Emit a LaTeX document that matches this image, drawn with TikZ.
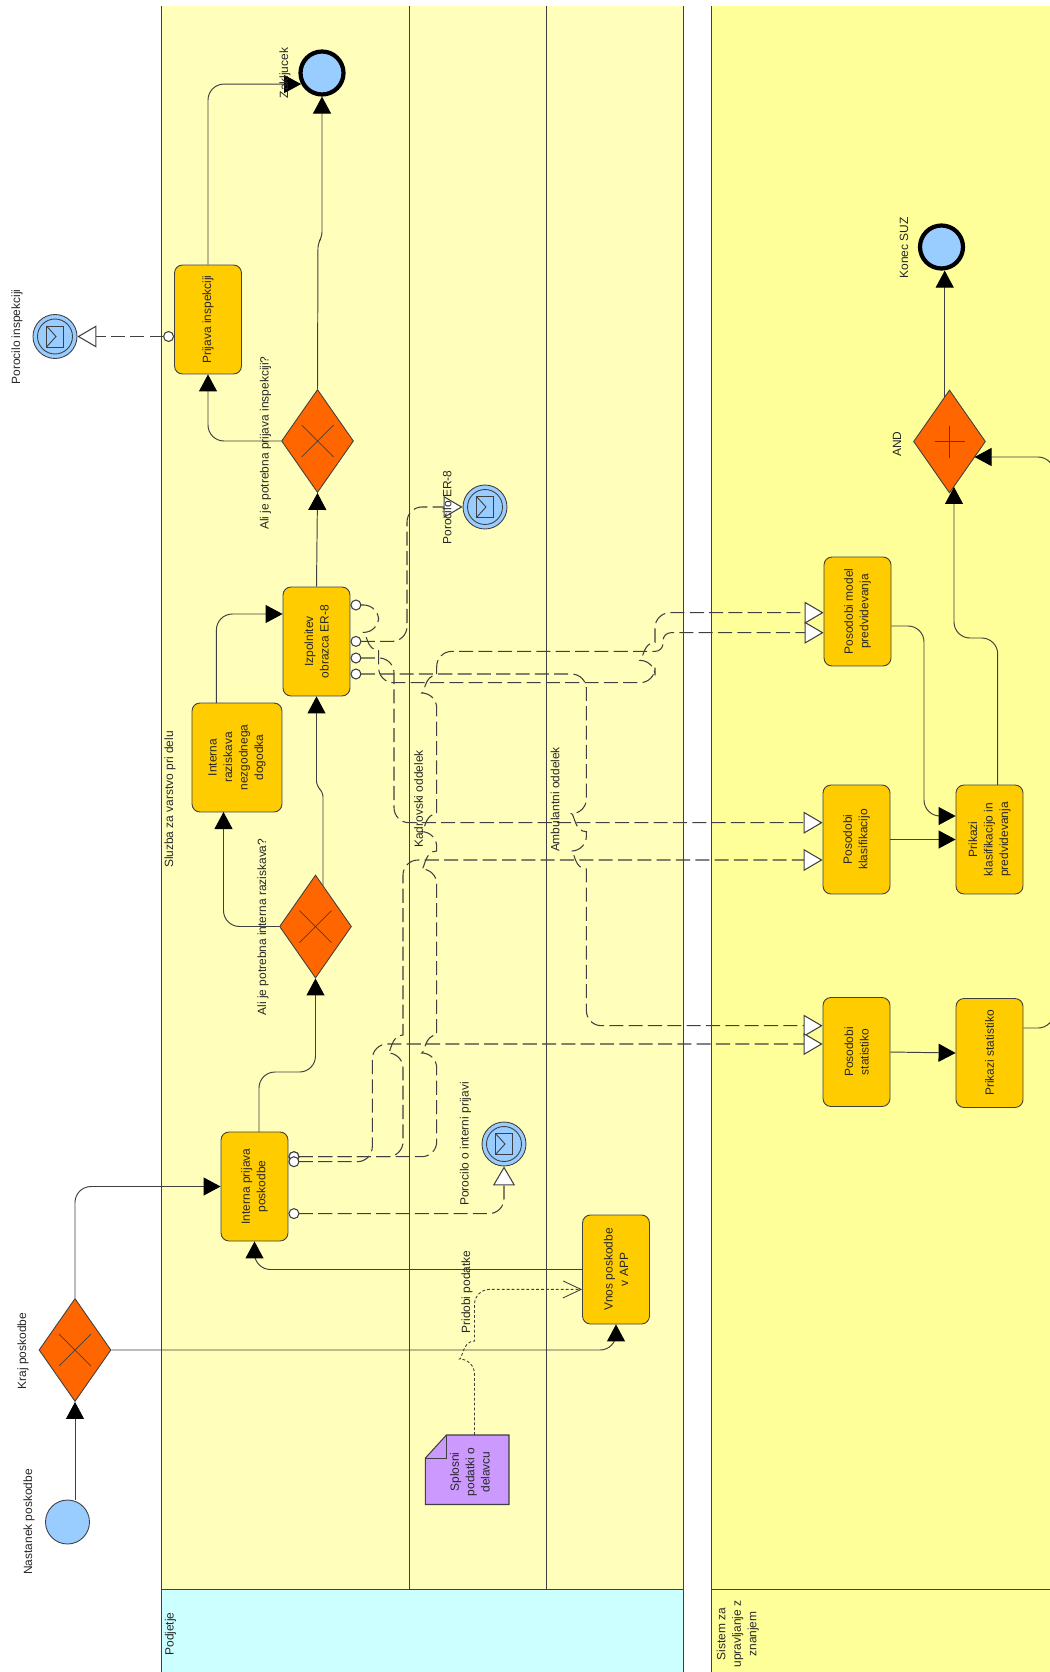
\documentclass[tikz,border=0pt]{standalone}
\usepackage{fontspec}
\usepackage{tikz}
\usetikzlibrary{arrows.meta,shapes.geometric}
\setmainfont{Liberation Sans}
\definecolor{lanecol}{HTML}{FFFFBB}
\definecolor{poolcol}{HTML}{FFFF99}
\definecolor{headcol}{HTML}{CCFFFF}
\definecolor{taskcol}{HTML}{FFCC00}
\definecolor{gatecol}{HTML}{FF6600}
\definecolor{evtcol}{HTML}{99CCFF}
\definecolor{notecol}{HTML}{CC99FF}
\definecolor{linecol}{HTML}{404040}
\tikzset{
lbl/.style={rotate=90,inner sep=0pt,align=center,text=black!85,font=\fontsize{6.8}{8.8}\selectfont},
task/.style={lbl,draw=linecol,line width=0.5pt,fill=taskcol,rounded corners=0.16cm,minimum width=2.18cm,minimum height=1.34cm},
gate/.style={diamond,draw=linecol,line width=0.5pt,fill=gatecol,inner sep=0pt,minimum width=1.44cm,minimum height=2.06cm},
evt/.style={circle,draw=linecol,line width=0.5pt,fill=evtcol,inner sep=0pt,minimum size=0.88cm},
endevt/.style={evt,draw=black,line width=2.4pt,minimum size=0.86cm},
lane/.style={draw=linecol,line width=0.55pt},
seq/.style={draw=linecol,line width=0.55pt,rounded corners=0.32cm,-{Triangle[length=0.34cm,width=0.36cm,color=black]}},
msg/.style={draw=linecol,line width=0.6pt,rounded corners=0.3cm,dash pattern=on 8pt off 3pt,{Circle[fill=white,length=0.22cm]}-{Triangle[fill=white,length=0.38cm,width=0.44cm]}},
assoc/.style={draw=linecol,line width=0.5pt,rounded corners=0.3cm,dash pattern=on 1.6pt off 1.2pt,-{Straight Barb[length=0.36cm,width=0.34cm,color=linecol]}}
}
% line jump on a vertical run
\newcommand{\bumpv}[3]{-- (#1,#2+#3) [sharp corners] .. controls (#1-12,#2+#3) and (#1-12,#2-#3) .. (#1,#2-#3) -- (#1,#2-1.3*#3) [rounded corners=0.3cm]}
\newcommand{\msgevent}[3]{
\node[evt] (#1) at (#2,#3) {};
\node[evt,minimum size=0.7cm] (#1Inner) at (#2,#3) {};
\draw[draw=linecol,line width=0.5pt] (#2-8.5,#3-10.5) rectangle (#2+8,#3+10.5);
\draw[draw=linecol,line width=0.5pt] (#2-8.5,#3-10.5) -- (#2+1,#3) -- (#2-8.5,#3+10.5);
}
\begin{document}
\begin{tikzpicture}[x=0.02cm,y=-0.02cm]
\useasboundingbox (0,0) rectangle (1050,1672);
\clip (0,0) rectangle (1050,1672);
% pools
\fill[lanecol] (161,6) rectangle (683,1589);
\fill[headcol] (161,1589) rectangle (683,1672);
\fill[poolcol] (711,6) rectangle (1050,1672);
\draw[lane] (161,6) -- (161,1672);
\draw[lane] (683,6) -- (683,1672);
\draw[lane] (711,6) -- (711,1672);
\draw[lane] (409,6) -- (409,1589);
\draw[lane] (546,6) -- (546,1589);
\draw[lane] (161,1589) -- (683,1589);
\draw[lane] (711,1589) -- (1050,1589);
% tasks
\node[task] (boxPrj) at (208,319.5) {Prijava inspekciji};
\node[task] (boxIzp) at (316.5,641.5) {Izpolnitev\\obrazca ER-8};
\node[task,minimum height=1.8cm] (boxRaz) at (237,757.5) {Interna\\raziskava\\nezgodnega\\dogodka};
\node[task] (boxPri) at (254.5,1186.5) {Interna prijava\\poskodbe};
\node[task] (boxVnos) at (616,1269.5) {Vnos poskodbe\\v APP};
\node[task] (boxMod) at (857.5,611.5) {Posodobi model\\predvidevanja};
\node[task] (boxKla) at (856.5,839.5) {Posodobi\\klasifikacijo};
\node[task] (boxSta) at (856.5,1052) {Posodobi\\statistiko};
\node[task] (boxPkl) at (989.5,839.5) {Prikazi\\klasifikacijo in\\predvidevanja};
\node[task] (boxPst) at (989.5,1053) {Prikazi statistiko};
% gateways
\node[gate] (gateKraj) at (75,1350) {};
\node[gate] (gateOne) at (315.5,926.5) {};
\node[gate] (gateTwo) at (317.5,441) {};
\node[gate] (gateAnd) at (949.5,441.5) {};
\foreach \g in {gateKraj,gateOne,gateTwo}{
\draw[draw=linecol,line width=0.4pt] (\g.center) +(-16,-16) -- +(16,16) +(-16,16) -- +(16,-16);
}
\draw[draw=linecol,line width=0.4pt] (gateAnd.center) +(-15,0) -- +(15,0) +(0,-16) -- +(0,16);
% events
\node[evt] (evStart) at (67.5,1522) {};
\node[endevt] (evEnd) at (322,73) {};
\node[endevt] (evKonec) at (941.5,247) {};
\msgevent{evInsp}{55}{336.5}
\msgevent{evEr}{485}{507}
\msgevent{evInt}{504}{1144}
% note
\filldraw[draw=linecol,line width=0.6pt,fill=notecol] (425.4,1458) -- (446.4,1435) -- (509,1435) -- (509,1504.5) -- (425.4,1504.5) -- cycle;
\draw[draw=linecol,line width=0.5pt] (446.4,1435) -- (446.4,1458) -- (425.4,1458);
\node[lbl] (noteData) at (470,1472) {Splosni\\podatki o\\delavcu};
% ports
\coordinate (prjPort) at (boxPrj.north |- 0,336.5);
\coordinate (izpA) at (boxIzp.south |- 0,605);
\coordinate (izpB) at (boxIzp.south |- 0,641.4);
\coordinate (izpC) at (boxIzp.south |- 0,658);
\coordinate (izpD) at (boxIzp.south |- 0,674);
\coordinate (izpIn) at (boxIzp.north |- 0,614);
\coordinate (priA) at (boxPri.south |- 0,1156.7);
\coordinate (priB) at (boxPri.south |- 0,1161.7);
\coordinate (priC) at (boxPri.south |- 0,1213.6);
\coordinate (priOut) at (259,1132);
\coordinate (modA) at (boxMod.north |- 0,612.7);
\coordinate (modB) at (boxMod.north |- 0,632.7);
\coordinate (klaA) at (boxKla.north |- 0,822.7);
\coordinate (klaB) at (boxKla.north |- 0,860);
\coordinate (staA) at (boxSta.north |- 0,1025.7);
\coordinate (staB) at (boxSta.north |- 0,1044);
\coordinate (razIn) at (223.5,812);
\coordinate (razOut) at (216.4,703);
\coordinate (oneOut) at (323,885.6);
\coordinate (andOut) at (944.7,397);
\coordinate (andIn) at (954,487);
\coordinate (andSide) at (974.5,457);
\coordinate (pklOut) at (997.7,785);
\coordinate (modOut) at (boxMod.south |- 0,626);
\coordinate (pklIn) at (boxPkl.north |- 0,816);
\coordinate (pstOut) at (boxPst.south |- 0,1028);
\coordinate (vnosIn) at (boxVnos.north |- 0,1289.4);
\coordinate (noteOut) at (474.5,1435);
% sequence flows
\draw[seq] (gateKraj.south |- evStart.north) -- (gateKraj.south);
\draw[seq] (gateKraj.north) |- (boxPri.north);
\draw[seq] (gateKraj.east) -| (boxVnos.west);
\draw[seq] (boxVnos.north) -| (boxPri.west);
\draw[seq] (priOut) -- ++(0,-60) -| (gateOne.south);
\draw[seq] (gateOne.west) -| (razIn);
\draw[seq] (razOut) |- (izpIn);
\draw[seq,rounded corners=0.1cm] (oneOut) -- (323,792) -- (316.5,786) -- (boxIzp.west);
\draw[seq] (boxIzp.east) -- (gateTwo.south);
\draw[seq,rounded corners=0.1cm] (gateTwo.north) -- (318,243) -- (322,237) -- (evEnd.south);
\draw[seq] (gateTwo.west) -| (boxPrj.west);
\draw[seq] (boxPrj.east) |- (evEnd.208);
\draw[seq] (andOut) -- (andOut |- evKonec.south);
\draw[seq] (pklOut) -- (997.7,638) -- (954,638) -- (andIn);
\draw[seq] (pstOut) -- (1054,1028) -- (1054,457) -- (andSide);
\draw[seq] (modOut) -- (924,626) -- (924,816) -- (pklIn);
\draw[seq] (boxKla.south) -- (boxPkl.north);
\draw[seq] (boxSta.south) -- (boxPst.north);
% message flows
\draw[msg] (prjPort) -- (evInsp.east);
\draw[msg] (izpA) -- (378.6,605) \bumpv{378.6}{641.4}{-9} -- (378.6,682.7) -- (655,682.7) \bumpv{655}{651.4}{9} -- (655,612.7) -- (modA);
\draw[msg] (izpB) -- (407,641.4) -- (407,507) -- (evEr.west);
\draw[msg] (izpC) -- (394,658) -- (394,822.7) -- (klaA);
\draw[msg] (izpD) -- (586.4,674) \bumpv{586.4}{822.7}{-9} \bumpv{586.4}{860}{-9} -- (586.4,1025.7) -- (staA);
\draw[msg] (priA) -- (436.7,1156.7) \bumpv{436.7}{1044}{9} \bumpv{436.7}{860}{9} \bumpv{436.7}{822.7}{9} \bumpv{436.7}{684}{9} -- (436.7,651.4) [rounded corners=0.16cm] -- (663,651.4) -- (663,632.7) -- (modB);
\draw[msg] (priA) -- (403,1156.7) \bumpv{403}{1044}{9} -- (403,860) -- (klaB);
\draw[msg] (priB) -- (372.3,1161.7) -- (372.3,1044) -- (staB);
\draw[msg] (priC) -| (evInt.south);
\draw[assoc] (noteOut) \bumpv{474.5}{1350}{9} -- (474.5,1289.4) -- (vnosIn);
% labels
\node[lbl] (lblStart) at (29,1522) {Nastanek poskodbe};
\node[lbl] (lblKraj) at (23,1351) {Kraj poskodbe};
\node[lbl] (lblInsp) at (17,337) {Porocilo inspekciji};
\node[lbl] (lblEnd) at (285,73) {Zakljucek};
\node[lbl] (lblGateTwo) at (265.6,443) {Ali je potrebna prijava inspekciji?};
\node[lbl] (lblGateOne) at (263,927) {Ali je potrebna interna raziskava?};
\node[lbl] (lblEr) at (447,507.5) {Porocilo ER-8};
\node[lbl] (lblInt) at (465.6,1144) {Porocilo o interni prijavi};
\node[lbl] (lblData) at (467,1292) {Pridobi podatke};
\node[lbl] (lblVarstvo) at (170,799.5) {Sluzba za varstvo pri delu};
\node[lbl] (lblKadr) at (418.6,799) {Kadrovski oddelek};
\node[lbl] (lblAmb) at (555,799.5) {Ambulantni oddelek};
\node[lbl] (lblPodjetje) at (170.5,1634) {Podjetje};
\node[lbl] (lblSistem) at (737.7,1634) {Sistem za\\upravljanje z\\znanjem};
\node[lbl] (lblKonec) at (904,248) {Konec SUZ};
\node[lbl] (lblAnd) at (897,444) {AND};
\end{tikzpicture}
\end{document}
